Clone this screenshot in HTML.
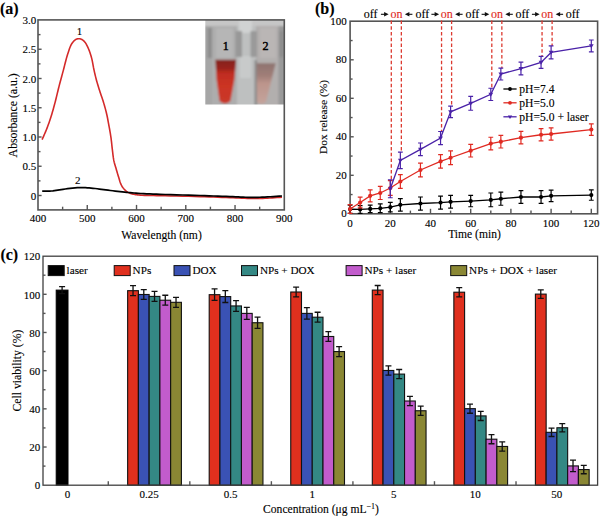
<!DOCTYPE html><html><head><meta charset="utf-8"><style>html,body{margin:0;padding:0;background:#fff;}svg{display:block;}text{font-family:"Liberation Serif", serif;stroke:#000;stroke-width:0.12px;}</style></head><body>
<svg width="600" height="517" viewBox="0 0 600 517">
<rect width="600" height="517" fill="#fff"/>
<defs><clipPath id="pc"><rect x="205.3" y="19.9" width="79" height="84.6"/></clipPath><filter id="pb" x="-5%" y="-5%" width="110%" height="110%"><feGaussianBlur stdDeviation="0.9"/></filter><linearGradient id="red1" x1="0" y1="0" x2="0" y2="1"><stop offset="0" stop-color="#84201a"/><stop offset="0.2" stop-color="#9a231b"/><stop offset="0.3" stop-color="#bf2c20"/><stop offset="0.6" stop-color="#cc3424"/><stop offset="1" stop-color="#c8382a"/></linearGradient><linearGradient id="pink2" x1="0" y1="0" x2="0" y2="1"><stop offset="0" stop-color="#8e7470"/><stop offset="0.3" stop-color="#a07e78"/><stop offset="0.5" stop-color="#bc958c"/><stop offset="1" stop-color="#c4a49c"/></linearGradient></defs>
<g clip-path="url(#pc)"><g filter="url(#pb)">
<rect x="202.3" y="16.9" width="85.0" height="90.6" fill="#acacac"/>
<rect x="202" y="17" width="86" height="9" fill="#c6c6c6"/>
<rect x="202" y="26" width="10" height="82" fill="#a6a6a6"/>
<rect x="207.5" y="28" width="5" height="30" fill="#8e8e8e"/>
<rect x="212" y="26" width="25" height="82" fill="#adadad"/>
<rect x="216" y="28" width="17" height="30" fill="#b6b6b6"/>
<rect x="237" y="26" width="19" height="82" fill="#bec0c0"/>
<rect x="239" y="20" width="13" height="13" fill="#d0d2d2"/>
<rect x="240" y="56" width="11" height="22" fill="#c8caca"/>
<rect x="235.5" y="31" width="6.5" height="26" fill="#989898"/>
<rect x="250.5" y="31" width="6.5" height="26" fill="#9a9a9a"/>
<rect x="254.5" y="60" width="2.5" height="46" fill="#8c8c8c"/>
<rect x="257" y="26" width="22" height="82" fill="#b2afae"/>
<rect x="260" y="28" width="16" height="30" fill="#bab6b5"/>
<rect x="278.5" y="26" width="8" height="82" fill="#999999"/>
<rect x="279" y="31" width="5" height="26" fill="#8e8e8e"/>
<path d="M215.4,59.8 L236.1,59.8 L234.4,80 L230.5,101 Q225,106 219.5,101 L216.6,80 Z" fill="url(#red1)"/>
<path d="M256.6,63.2 L275.7,63.2 L270.5,84 L266,102 Q261,106 257,102 Z" fill="url(#pink2)"/>
</g></g>
<text x="225.8" y="50.2" font-size="12" text-anchor="middle" fill="#000" font-weight="normal" style="stroke-width:0.45px">1</text>
<text x="265.5" y="50.2" font-size="12" text-anchor="middle" fill="#000" font-weight="normal" style="stroke-width:0.45px">2</text>
<rect x="38.0" y="19.9" width="246.3" height="190.0" fill="none" stroke="#555" stroke-width="1.6"/>
<text x="38" y="222.4" font-size="11" text-anchor="middle" fill="#000" font-weight="normal" >400</text>
<line x1="62.63" y1="209.9" x2="62.63" y2="206.7" stroke="#555" stroke-width="1.4" />
<line x1="87.26" y1="209.9" x2="87.26" y2="204.9" stroke="#555" stroke-width="1.4" />
<text x="87.26" y="222.4" font-size="11" text-anchor="middle" fill="#000" font-weight="normal" >500</text>
<line x1="111.89" y1="209.9" x2="111.89" y2="206.7" stroke="#555" stroke-width="1.4" />
<line x1="136.52" y1="209.9" x2="136.52" y2="204.9" stroke="#555" stroke-width="1.4" />
<text x="136.52" y="222.4" font-size="11" text-anchor="middle" fill="#000" font-weight="normal" >600</text>
<line x1="161.15" y1="209.9" x2="161.15" y2="206.7" stroke="#555" stroke-width="1.4" />
<line x1="185.78" y1="209.9" x2="185.78" y2="204.9" stroke="#555" stroke-width="1.4" />
<text x="185.78" y="222.4" font-size="11" text-anchor="middle" fill="#000" font-weight="normal" >700</text>
<line x1="210.41" y1="209.9" x2="210.41" y2="206.7" stroke="#555" stroke-width="1.4" />
<line x1="235.04" y1="209.9" x2="235.04" y2="204.9" stroke="#555" stroke-width="1.4" />
<text x="235.04" y="222.4" font-size="11" text-anchor="middle" fill="#000" font-weight="normal" >800</text>
<line x1="259.67" y1="209.9" x2="259.67" y2="206.7" stroke="#555" stroke-width="1.4" />
<text x="284.3" y="222.4" font-size="11" text-anchor="middle" fill="#000" font-weight="normal" >900</text>
<text x="36.2" y="199.5" font-size="11" text-anchor="end" fill="#000" font-weight="normal" >0</text>
<line x1="38" y1="195.5" x2="41.6" y2="195.5" stroke="#555" stroke-width="1.4" />
<line x1="38" y1="180.88" x2="40.5" y2="180.88" stroke="#555" stroke-width="1.4" />
<text x="36.2" y="170.25" font-size="11" text-anchor="end" fill="#000" font-weight="normal" >0.5</text>
<line x1="38" y1="166.25" x2="41.6" y2="166.25" stroke="#555" stroke-width="1.4" />
<line x1="38" y1="151.62" x2="40.5" y2="151.62" stroke="#555" stroke-width="1.4" />
<text x="36.2" y="141" font-size="11" text-anchor="end" fill="#000" font-weight="normal" >1.0</text>
<line x1="38" y1="137" x2="41.6" y2="137" stroke="#555" stroke-width="1.4" />
<line x1="38" y1="122.38" x2="40.5" y2="122.38" stroke="#555" stroke-width="1.4" />
<text x="36.2" y="111.75" font-size="11" text-anchor="end" fill="#000" font-weight="normal" >1.5</text>
<line x1="38" y1="107.75" x2="41.6" y2="107.75" stroke="#555" stroke-width="1.4" />
<line x1="38" y1="93.12" x2="40.5" y2="93.12" stroke="#555" stroke-width="1.4" />
<text x="36.2" y="82.5" font-size="11" text-anchor="end" fill="#000" font-weight="normal" >2.0</text>
<line x1="38" y1="78.5" x2="41.6" y2="78.5" stroke="#555" stroke-width="1.4" />
<line x1="38" y1="63.88" x2="40.5" y2="63.88" stroke="#555" stroke-width="1.4" />
<text x="36.2" y="53.25" font-size="11" text-anchor="end" fill="#000" font-weight="normal" >2.5</text>
<line x1="38" y1="49.25" x2="41.6" y2="49.25" stroke="#555" stroke-width="1.4" />
<line x1="38" y1="34.62" x2="40.5" y2="34.62" stroke="#555" stroke-width="1.4" />
<text x="36.2" y="24" font-size="11" text-anchor="end" fill="#000" font-weight="normal" >3.0</text>
<text x="161.5" y="238.6" font-size="11.6" text-anchor="middle" fill="#000" font-weight="normal" >Wavelength (nm)</text>
<text x="0" y="0" font-size="11.8" text-anchor="middle" transform="translate(16.9,115.3) rotate(-90)">Absorbance (a.u.)</text>
<text x="0" y="14" font-size="16" text-anchor="start" fill="#000" font-weight="bold" >(a)</text>
<path d="M42.1,139.6 L42.72,138.19 L43.34,136.8 L43.96,135.41 L44.58,134.01 L45.2,132.6 L45.81,131.17 L46.4,129.7 L47.03,128.1 L47.64,126.48 L48.25,124.84 L48.85,123.18 L49.44,121.49 L50.02,119.76 L50.6,118 L51.24,115.98 L51.87,113.91 L52.49,111.81 L53.1,109.66 L53.71,107.49 L54.31,105.3 L54.9,103.1 L55.52,100.73 L56.12,98.31 L56.71,95.87 L57.3,93.41 L57.89,90.95 L58.49,88.51 L59.1,86.1 L59.7,83.79 L60.31,81.49 L60.93,79.21 L61.55,76.93 L62.17,74.66 L62.78,72.38 L63.4,70.1 L64.01,67.78 L64.6,65.43 L65.2,63.06 L65.8,60.71 L66.41,58.41 L67.04,56.2 L67.7,54.1 L68.25,52.41 L68.8,50.73 L69.36,49.09 L69.93,47.53 L70.54,46.05 L71.19,44.7 L71.9,43.5 L72.45,42.71 L73.04,41.97 L73.64,41.29 L74.27,40.67 L74.9,40.12 L75.55,39.67 L76.2,39.3 L76.73,39.07 L77.26,38.9 L77.81,38.77 L78.36,38.7 L78.91,38.68 L79.46,38.71 L80,38.8 L80.63,38.97 L81.26,39.22 L81.9,39.54 L82.53,39.92 L83.14,40.36 L83.74,40.86 L84.3,41.4 L84.99,42.21 L85.65,43.14 L86.27,44.18 L86.87,45.3 L87.43,46.46 L87.98,47.63 L88.5,48.8 L89.04,50.08 L89.55,51.41 L90.03,52.77 L90.48,54.16 L90.91,55.56 L91.32,56.98 L91.7,58.4 L92.06,59.87 L92.37,61.36 L92.66,62.87 L92.93,64.39 L93.2,65.92 L93.48,67.45 L93.8,69 L94.16,70.64 L94.53,72.31 L94.92,73.98 L95.31,75.66 L95.73,77.35 L96.15,79.03 L96.6,80.7 L97.07,82.39 L97.57,84.09 L98.09,85.78 L98.62,87.47 L99.15,89.15 L99.68,90.79 L100.2,92.4 L100.66,93.81 L101.13,95.18 L101.59,96.53 L102.05,97.86 L102.51,99.21 L102.96,100.58 L103.4,102 L103.88,103.61 L104.37,105.26 L104.85,106.95 L105.32,108.65 L105.77,110.35 L106.2,112.04 L106.6,113.7 L106.95,115.24 L107.27,116.76 L107.57,118.26 L107.85,119.77 L108.13,121.29 L108.41,122.83 L108.7,124.4 L109.02,126.15 L109.36,127.94 L109.69,129.76 L110.01,131.59 L110.33,133.43 L110.62,135.27 L110.9,137.1 L111.15,138.94 L111.38,140.81 L111.59,142.68 L111.78,144.54 L111.98,146.39 L112.18,148.21 L112.4,150 L112.6,151.62 L112.79,153.23 L112.97,154.83 L113.17,156.4 L113.38,157.94 L113.62,159.44 L113.9,160.9 L114.18,162.13 L114.49,163.31 L114.82,164.47 L115.16,165.6 L115.51,166.73 L115.86,167.86 L116.2,169 L116.53,170.16 L116.87,171.32 L117.2,172.48 L117.54,173.63 L117.88,174.79 L118.24,175.95 L118.6,177.1 L118.97,178.28 L119.33,179.5 L119.69,180.71 L120.07,181.92 L120.47,183.08 L120.91,184.18 L121.4,185.2 L121.84,185.98 L122.29,186.72 L122.77,187.43 L123.28,188.09 L123.8,188.73 L124.34,189.33 L124.9,189.9 L125.43,190.4 L125.98,190.87 L126.54,191.31 L127.12,191.72 L127.72,192.11 L128.35,192.47 L129,192.8 L129.76,193.13 L130.56,193.43 L131.4,193.69 L132.26,193.93 L133.12,194.14 L133.97,194.33 L134.8,194.5 L135.52,194.64 L136.2,194.75 L136.86,194.83 L137.54,194.91 L138.27,194.97 L139.08,195.03 L140,195.1 L142.11,195.23 L144.57,195.33 L147.3,195.41 L150.27,195.48 L153.41,195.55 L156.67,195.62 L160,195.7 L165.04,195.82 L170.6,195.94 L176.48,196.06 L182.54,196.18 L188.59,196.31 L194.47,196.45 L200,196.6 L204.57,196.74 L209.06,196.9 L213.48,197.06 L217.79,197.23 L222,197.4 L226.07,197.55 L230,197.7 L233.09,197.82 L236.09,197.94 L239,198.06 L241.84,198.17 L244.61,198.27 L247.33,198.35 L250,198.4 L252.25,198.43 L254.42,198.45 L256.53,198.45 L258.62,198.44 L260.71,198.41 L262.83,198.37 L265,198.3 L267.37,198.2 L269.78,198.06 L272.21,197.9 L274.66,197.73 L277.11,197.54 L279.56,197.37 L282,197.2" fill="none" stroke="#d42a2a" stroke-width="1.6" stroke-linejoin="round"/>
<path d="M42.2,191.2 L43.49,191.18 L44.77,191.18 L46.04,191.18 L47.32,191.17 L48.62,191.15 L49.94,191.09 L51.3,191 L52.88,190.84 L54.48,190.62 L56.1,190.37 L57.76,190.09 L59.46,189.81 L61.21,189.54 L63,189.3 L65.24,189.02 L67.61,188.71 L70.05,188.41 L72.52,188.13 L74.98,187.88 L77.39,187.7 L79.7,187.6 L81.67,187.58 L83.59,187.62 L85.46,187.7 L87.33,187.82 L89.19,187.96 L91.07,188.13 L93,188.3 L95.09,188.51 L97.2,188.76 L99.33,189.04 L101.47,189.33 L103.63,189.63 L105.81,189.92 L108,190.2 L110.35,190.48 L112.76,190.77 L115.19,191.05 L117.63,191.33 L120.04,191.6 L122.41,191.86 L124.7,192.1 L126.65,192.3 L128.51,192.49 L130.33,192.67 L132.14,192.84 L134,193 L135.94,193.15 L138,193.3 L140.8,193.48 L143.69,193.63 L146.7,193.78 L149.82,193.91 L153.08,194.04 L156.47,194.17 L160,194.3 L165.14,194.48 L170.73,194.65 L176.61,194.82 L182.64,194.99 L188.64,195.16 L194.48,195.33 L200,195.5 L204.58,195.66 L209.11,195.82 L213.56,195.98 L217.9,196.14 L222.11,196.3 L226.15,196.45 L230,196.6 L232.83,196.71 L235.54,196.83 L238.15,196.95 L240.68,197.07 L243.15,197.17 L245.59,197.25 L248,197.3 L250.07,197.33 L252.06,197.34 L253.99,197.35 L255.92,197.34 L257.87,197.31 L259.89,197.26 L262,197.2 L264.67,197.09 L267.46,196.94 L270.32,196.77 L273.24,196.58 L276.18,196.38 L279.11,196.18 L282,196" fill="none" stroke="#000" stroke-width="1.7" stroke-linejoin="round"/>
<text x="79.4" y="35" font-size="11" text-anchor="middle" fill="#000" font-weight="normal" >1</text>
<text x="77.8" y="183.6" font-size="11" text-anchor="middle" fill="#000" font-weight="normal" >2</text>
<rect x="350.1" y="21.2" width="247.5" height="192.60000000000002" fill="none" stroke="#555" stroke-width="1.6"/>
<text x="350.1" y="227" font-size="11" text-anchor="middle" fill="#000" font-weight="normal" >0</text>
<line x1="370.2" y1="213.8" x2="370.2" y2="210.6" stroke="#555" stroke-width="1.4" />
<line x1="390.3" y1="213.8" x2="390.3" y2="208.8" stroke="#555" stroke-width="1.4" />
<text x="390.3" y="227" font-size="11" text-anchor="middle" fill="#000" font-weight="normal" >20</text>
<line x1="410.4" y1="213.8" x2="410.4" y2="210.6" stroke="#555" stroke-width="1.4" />
<line x1="430.5" y1="213.8" x2="430.5" y2="208.8" stroke="#555" stroke-width="1.4" />
<text x="430.5" y="227" font-size="11" text-anchor="middle" fill="#000" font-weight="normal" >40</text>
<line x1="450.6" y1="213.8" x2="450.6" y2="210.6" stroke="#555" stroke-width="1.4" />
<line x1="470.7" y1="213.8" x2="470.7" y2="208.8" stroke="#555" stroke-width="1.4" />
<text x="470.7" y="227" font-size="11" text-anchor="middle" fill="#000" font-weight="normal" >60</text>
<line x1="490.8" y1="213.8" x2="490.8" y2="210.6" stroke="#555" stroke-width="1.4" />
<line x1="510.9" y1="213.8" x2="510.9" y2="208.8" stroke="#555" stroke-width="1.4" />
<text x="510.9" y="227" font-size="11" text-anchor="middle" fill="#000" font-weight="normal" >80</text>
<line x1="531" y1="213.8" x2="531" y2="210.6" stroke="#555" stroke-width="1.4" />
<line x1="551.1" y1="213.8" x2="551.1" y2="208.8" stroke="#555" stroke-width="1.4" />
<text x="551.1" y="227" font-size="11" text-anchor="middle" fill="#000" font-weight="normal" >100</text>
<line x1="571.2" y1="213.8" x2="571.2" y2="210.6" stroke="#555" stroke-width="1.4" />
<line x1="591.3" y1="213.8" x2="591.3" y2="208.8" stroke="#555" stroke-width="1.4" />
<text x="591.3" y="227" font-size="11" text-anchor="middle" fill="#000" font-weight="normal" >120</text>
<text x="346.8" y="217.4" font-size="11" text-anchor="end" fill="#000" font-weight="normal" >0</text>
<line x1="350.1" y1="194.55" x2="352.6" y2="194.55" stroke="#555" stroke-width="1.4" />
<line x1="350.1" y1="175.3" x2="353.7" y2="175.3" stroke="#555" stroke-width="1.4" />
<text x="346.8" y="178.9" font-size="11" text-anchor="end" fill="#000" font-weight="normal" >20</text>
<line x1="350.1" y1="156.05" x2="352.6" y2="156.05" stroke="#555" stroke-width="1.4" />
<line x1="350.1" y1="136.8" x2="353.7" y2="136.8" stroke="#555" stroke-width="1.4" />
<text x="346.8" y="140.4" font-size="11" text-anchor="end" fill="#000" font-weight="normal" >40</text>
<line x1="350.1" y1="117.55" x2="352.6" y2="117.55" stroke="#555" stroke-width="1.4" />
<line x1="350.1" y1="98.3" x2="353.7" y2="98.3" stroke="#555" stroke-width="1.4" />
<text x="346.8" y="101.9" font-size="11" text-anchor="end" fill="#000" font-weight="normal" >60</text>
<line x1="350.1" y1="79.05" x2="352.6" y2="79.05" stroke="#555" stroke-width="1.4" />
<line x1="350.1" y1="59.8" x2="353.7" y2="59.8" stroke="#555" stroke-width="1.4" />
<text x="346.8" y="63.4" font-size="11" text-anchor="end" fill="#000" font-weight="normal" >80</text>
<line x1="350.1" y1="40.55" x2="352.6" y2="40.55" stroke="#555" stroke-width="1.4" />
<text x="346.8" y="24.9" font-size="11" text-anchor="end" fill="#000" font-weight="normal" >100</text>
<text x="474.5" y="238.3" font-size="11.6" text-anchor="middle" fill="#000" font-weight="normal" >Time (min)</text>
<text x="0" y="0" font-size="11.4" text-anchor="middle" transform="translate(326.9,117) rotate(-90)">Dox release (%)</text>
<text x="315" y="14" font-size="16" text-anchor="start" fill="#000" font-weight="bold" >(b)</text>
<line x1="391.3" y1="20.6" x2="391.3" y2="180.5" stroke="#dc3a30" stroke-width="1.3" stroke-dasharray="3.3,2.45"/>
<line x1="401.35" y1="20.6" x2="401.35" y2="152.6" stroke="#dc3a30" stroke-width="1.3" stroke-dasharray="3.3,2.45"/>
<line x1="441.55" y1="20.6" x2="441.55" y2="131.6" stroke="#dc3a30" stroke-width="1.3" stroke-dasharray="3.3,2.45"/>
<line x1="451.6" y1="20.6" x2="451.6" y2="106.0" stroke="#dc3a30" stroke-width="1.3" stroke-dasharray="3.3,2.45"/>
<line x1="491.8" y1="20.6" x2="491.8" y2="88.0" stroke="#dc3a30" stroke-width="1.3" stroke-dasharray="3.3,2.45"/>
<line x1="501.85" y1="20.6" x2="501.85" y2="68.0" stroke="#dc3a30" stroke-width="1.3" stroke-dasharray="3.3,2.45"/>
<line x1="542.05" y1="20.6" x2="542.05" y2="56.2" stroke="#dc3a30" stroke-width="1.3" stroke-dasharray="3.3,2.45"/>
<line x1="552.1" y1="20.6" x2="552.1" y2="46.0" stroke="#dc3a30" stroke-width="1.3" stroke-dasharray="3.3,2.45"/>
<polyline points="350.1,209.26 360.15,209.45 370.2,208.88 380.25,208.3 390.3,207.16 400.35,204.86 420.45,203.52 440.55,202.56 450.6,201.79 470.7,201.03 490.8,199.88 500.85,198.73 520.95,197.01 541.05,197.01 551.1,195.86 591.3,195.09" fill="none" stroke="#000" stroke-width="1.3"/>
<path d="M350.1,205.05V213.47M347.7,205.05H352.5M347.7,213.47H352.5" stroke="#000" stroke-width="1.2" fill="none"/>
<path d="M360.15,205.62V213.28M357.75,205.62H362.55M357.75,213.28H362.55" stroke="#000" stroke-width="1.2" fill="none"/>
<path d="M370.2,205.05V212.71M367.8,205.05H372.6M367.8,212.71H372.6" stroke="#000" stroke-width="1.2" fill="none"/>
<path d="M380.25,203.9V212.71M377.85,203.9H382.65M377.85,212.71H382.65" stroke="#000" stroke-width="1.2" fill="none"/>
<path d="M390.3,202.37V211.94M387.9,202.37H392.7M387.9,211.94H392.7" stroke="#000" stroke-width="1.2" fill="none"/>
<path d="M400.35,198.54V211.18M397.95,198.54H402.75M397.95,211.18H402.75" stroke="#000" stroke-width="1.2" fill="none"/>
<path d="M420.45,197.01V210.03M418.05,197.01H422.85M418.05,210.03H422.85" stroke="#000" stroke-width="1.2" fill="none"/>
<path d="M440.55,196.05V209.07M438.15,196.05H442.95M438.15,209.07H442.95" stroke="#000" stroke-width="1.2" fill="none"/>
<path d="M450.6,195.47V208.11M448.2,195.47H453M448.2,208.11H453" stroke="#000" stroke-width="1.2" fill="none"/>
<path d="M470.7,195.28V206.77M468.3,195.28H473.1M468.3,206.77H473.1" stroke="#000" stroke-width="1.2" fill="none"/>
<path d="M490.8,192.98V206.77M488.4,192.98H493.2M488.4,206.77H493.2" stroke="#000" stroke-width="1.2" fill="none"/>
<path d="M500.85,192.22V205.24M498.45,192.22H503.25M498.45,205.24H503.25" stroke="#000" stroke-width="1.2" fill="none"/>
<path d="M520.95,190.69V203.33M518.55,190.69H523.35M518.55,203.33H523.35" stroke="#000" stroke-width="1.2" fill="none"/>
<path d="M541.05,190.69V203.33M538.65,190.69H543.45M538.65,203.33H543.45" stroke="#000" stroke-width="1.2" fill="none"/>
<path d="M551.1,190.11V201.6M548.7,190.11H553.5M548.7,201.6H553.5" stroke="#000" stroke-width="1.2" fill="none"/>
<path d="M591.3,189.92V200.26M588.9,189.92H593.7M588.9,200.26H593.7" stroke="#000" stroke-width="1.2" fill="none"/>
<circle cx="350.1" cy="209.26" r="2.1" fill="#000"/>
<circle cx="360.15" cy="209.45" r="2.1" fill="#000"/>
<circle cx="370.2" cy="208.88" r="2.1" fill="#000"/>
<circle cx="380.25" cy="208.3" r="2.1" fill="#000"/>
<circle cx="390.3" cy="207.16" r="2.1" fill="#000"/>
<circle cx="400.35" cy="204.86" r="2.1" fill="#000"/>
<circle cx="420.45" cy="203.52" r="2.1" fill="#000"/>
<circle cx="440.55" cy="202.56" r="2.1" fill="#000"/>
<circle cx="450.6" cy="201.79" r="2.1" fill="#000"/>
<circle cx="470.7" cy="201.03" r="2.1" fill="#000"/>
<circle cx="490.8" cy="199.88" r="2.1" fill="#000"/>
<circle cx="500.85" cy="198.73" r="2.1" fill="#000"/>
<circle cx="520.95" cy="197.01" r="2.1" fill="#000"/>
<circle cx="541.05" cy="197.01" r="2.1" fill="#000"/>
<circle cx="551.1" cy="195.86" r="2.1" fill="#000"/>
<circle cx="591.3" cy="195.09" r="2.1" fill="#000"/>
<polyline points="350.1,209.07 360.15,202.56 370.2,195.86 380.25,192.98 390.3,188 400.35,181.49 420.45,170 440.55,161.39 450.6,157.75 470.7,150.66 490.8,143.58 500.85,141.66 520.95,137.64 541.05,134.77 551.1,134 591.3,129.6" fill="none" stroke="#e02a22" stroke-width="1.3"/>
<path d="M350.1,204.67V213.47M347.7,204.67H352.5M347.7,213.47H352.5" stroke="#e02a22" stroke-width="1.2" fill="none"/>
<path d="M360.15,197.2V207.92M357.75,197.2H362.55M357.75,207.92H362.55" stroke="#e02a22" stroke-width="1.2" fill="none"/>
<path d="M370.2,189.92V201.79M367.8,189.92H372.6M367.8,201.79H372.6" stroke="#e02a22" stroke-width="1.2" fill="none"/>
<path d="M380.25,186.47V199.5M377.85,186.47H382.65M377.85,199.5H382.65" stroke="#e02a22" stroke-width="1.2" fill="none"/>
<path d="M390.3,180.54V195.47M387.9,180.54H392.7M387.9,195.47H392.7" stroke="#e02a22" stroke-width="1.2" fill="none"/>
<path d="M400.35,174.6V188.39M397.95,174.6H402.75M397.95,188.39H402.75" stroke="#e02a22" stroke-width="1.2" fill="none"/>
<path d="M420.45,163.11V176.9M418.05,163.11H422.85M418.05,176.9H422.85" stroke="#e02a22" stroke-width="1.2" fill="none"/>
<path d="M440.55,154.68V168.09M438.15,154.68H442.95M438.15,168.09H442.95" stroke="#e02a22" stroke-width="1.2" fill="none"/>
<path d="M450.6,150.85V164.64M448.2,150.85H453M448.2,164.64H453" stroke="#e02a22" stroke-width="1.2" fill="none"/>
<path d="M470.7,144.34V156.98M468.3,144.34H473.1M468.3,156.98H473.1" stroke="#e02a22" stroke-width="1.2" fill="none"/>
<path d="M490.8,137.26V149.9M488.4,137.26H493.2M488.4,149.9H493.2" stroke="#e02a22" stroke-width="1.2" fill="none"/>
<path d="M500.85,135.34V147.98M498.45,135.34H503.25M498.45,147.98H503.25" stroke="#e02a22" stroke-width="1.2" fill="none"/>
<path d="M520.95,131.32V143.96M518.55,131.32H523.35M518.55,143.96H523.35" stroke="#e02a22" stroke-width="1.2" fill="none"/>
<path d="M541.05,128.64V140.9M538.65,128.64H543.45M538.65,140.9H543.45" stroke="#e02a22" stroke-width="1.2" fill="none"/>
<path d="M551.1,127.87V140.13M548.7,127.87H553.5M548.7,140.13H553.5" stroke="#e02a22" stroke-width="1.2" fill="none"/>
<path d="M591.3,123.85V135.34M588.9,123.85H593.7M588.9,135.34H593.7" stroke="#e02a22" stroke-width="1.2" fill="none"/>
<circle cx="350.1" cy="209.07" r="2.1" fill="#e02a22"/>
<circle cx="360.15" cy="202.56" r="2.1" fill="#e02a22"/>
<circle cx="370.2" cy="195.86" r="2.1" fill="#e02a22"/>
<circle cx="380.25" cy="192.98" r="2.1" fill="#e02a22"/>
<circle cx="390.3" cy="188" r="2.1" fill="#e02a22"/>
<circle cx="400.35" cy="181.49" r="2.1" fill="#e02a22"/>
<circle cx="420.45" cy="170" r="2.1" fill="#e02a22"/>
<circle cx="440.55" cy="161.39" r="2.1" fill="#e02a22"/>
<circle cx="450.6" cy="157.75" r="2.1" fill="#e02a22"/>
<circle cx="470.7" cy="150.66" r="2.1" fill="#e02a22"/>
<circle cx="490.8" cy="143.58" r="2.1" fill="#e02a22"/>
<circle cx="500.85" cy="141.66" r="2.1" fill="#e02a22"/>
<circle cx="520.95" cy="137.64" r="2.1" fill="#e02a22"/>
<circle cx="541.05" cy="134.77" r="2.1" fill="#e02a22"/>
<circle cx="551.1" cy="134" r="2.1" fill="#e02a22"/>
<circle cx="591.3" cy="129.6" r="2.1" fill="#e02a22"/>
<polyline points="390.3,188.77 400.35,160.43 420.45,149.32 440.55,138.02 450.6,111.79 470.7,103.36 490.8,94.36 500.85,74.06 520.95,68.51 541.05,62.38 551.1,52.42 591.3,45.91" fill="none" stroke="#4a22a8" stroke-width="1.3"/>
<path d="M390.3,179.77V197.77M387.9,179.77H392.7M387.9,197.77H392.7" stroke="#4a22a8" stroke-width="1.2" fill="none"/>
<path d="M400.35,152.19V168.66M397.95,152.19H402.75M397.95,168.66H402.75" stroke="#4a22a8" stroke-width="1.2" fill="none"/>
<path d="M420.45,143V155.64M418.05,143H422.85M418.05,155.64H422.85" stroke="#4a22a8" stroke-width="1.2" fill="none"/>
<path d="M440.55,131.51V144.53M438.15,131.51H442.95M438.15,144.53H442.95" stroke="#4a22a8" stroke-width="1.2" fill="none"/>
<path d="M450.6,106.04V117.53M448.2,106.04H453M448.2,117.53H453" stroke="#4a22a8" stroke-width="1.2" fill="none"/>
<path d="M470.7,96.47V110.26M468.3,96.47H473.1M468.3,110.26H473.1" stroke="#4a22a8" stroke-width="1.2" fill="none"/>
<path d="M490.8,88.23V100.49M488.4,88.23H493.2M488.4,100.49H493.2" stroke="#4a22a8" stroke-width="1.2" fill="none"/>
<path d="M500.85,68.13V80M498.45,68.13H503.25M498.45,80H503.25" stroke="#4a22a8" stroke-width="1.2" fill="none"/>
<path d="M520.95,62.19V74.83M518.55,62.19H523.35M518.55,74.83H523.35" stroke="#4a22a8" stroke-width="1.2" fill="none"/>
<path d="M541.05,56.44V68.32M538.65,56.44H543.45M538.65,68.32H543.45" stroke="#4a22a8" stroke-width="1.2" fill="none"/>
<path d="M551.1,45.91V58.93M548.7,45.91H553.5M548.7,58.93H553.5" stroke="#4a22a8" stroke-width="1.2" fill="none"/>
<path d="M591.3,39.98V51.85M588.9,39.98H593.7M588.9,51.85H593.7" stroke="#4a22a8" stroke-width="1.2" fill="none"/>
<path d="M387.9,187.17H392.7L390.3,191.17Z" fill="#4a22a8"/>
<path d="M397.95,158.83H402.75L400.35,162.83Z" fill="#4a22a8"/>
<path d="M418.05,147.72H422.85L420.45,151.72Z" fill="#4a22a8"/>
<path d="M438.15,136.42H442.95L440.55,140.42Z" fill="#4a22a8"/>
<path d="M448.2,110.19H453L450.6,114.19Z" fill="#4a22a8"/>
<path d="M468.3,101.76H473.1L470.7,105.76Z" fill="#4a22a8"/>
<path d="M488.4,92.76H493.2L490.8,96.76Z" fill="#4a22a8"/>
<path d="M498.45,72.46H503.25L500.85,76.46Z" fill="#4a22a8"/>
<path d="M518.55,66.91H523.35L520.95,70.91Z" fill="#4a22a8"/>
<path d="M538.65,60.78H543.45L541.05,64.78Z" fill="#4a22a8"/>
<path d="M548.7,50.82H553.5L551.1,54.82Z" fill="#4a22a8"/>
<path d="M588.9,44.31H593.7L591.3,48.31Z" fill="#4a22a8"/>
<text x="363.8" y="17.9" font-size="12" text-anchor="start" fill="#000" font-weight="normal" >off</text>
<path d="M380.9,14.3H385.3" stroke="#111" stroke-width="1.1"/><path d="M384.1,12.1L388.6,14.3L384.1,16.5Z" fill="#111"/>
<text x="390.4" y="17.9" font-size="12" text-anchor="start" fill="#e02a22" font-weight="normal" style="stroke:#e02a22" >on</text>
<path d="M408.1,14.3H412.4" stroke="#111" stroke-width="1.1"/><path d="M409.4,12.1L404.9,14.3L409.4,16.5Z" fill="#111"/>
<text x="415.4" y="17.9" font-size="12" text-anchor="start" fill="#000" font-weight="normal" >off</text>
<path d="M431.4,14.3H435.8" stroke="#111" stroke-width="1.1"/><path d="M434.6,12.1L439.1,14.3L434.6,16.5Z" fill="#111"/>
<text x="440.8" y="17.9" font-size="12" text-anchor="start" fill="#e02a22" font-weight="normal" style="stroke:#e02a22" >on</text>
<path d="M458.3,14.3H462.6" stroke="#111" stroke-width="1.1"/><path d="M459.6,12.1L455.1,14.3L459.6,16.5Z" fill="#111"/>
<text x="465.4" y="17.9" font-size="12" text-anchor="start" fill="#000" font-weight="normal" >off</text>
<path d="M481.6,14.3H486" stroke="#111" stroke-width="1.1"/><path d="M484.8,12.1L489.3,14.3L484.8,16.5Z" fill="#111"/>
<text x="490.9" y="17.9" font-size="12" text-anchor="start" fill="#e02a22" font-weight="normal" style="stroke:#e02a22" >on</text>
<path d="M508.5,14.3H512.8" stroke="#111" stroke-width="1.1"/><path d="M509.8,12.1L505.3,14.3L509.8,16.5Z" fill="#111"/>
<text x="515.6" y="17.9" font-size="12" text-anchor="start" fill="#000" font-weight="normal" >off</text>
<path d="M531.9,14.3H536.3" stroke="#111" stroke-width="1.1"/><path d="M535.1,12.1L539.6,14.3L535.1,16.5Z" fill="#111"/>
<text x="541.2" y="17.9" font-size="12" text-anchor="start" fill="#e02a22" font-weight="normal" style="stroke:#e02a22" >on</text>
<path d="M558.8,14.3H563.1" stroke="#111" stroke-width="1.1"/><path d="M560.1,12.1L555.6,14.3L560.1,16.5Z" fill="#111"/>
<text x="565.8" y="17.9" font-size="12" text-anchor="start" fill="#000" font-weight="normal" >off</text>
<line x1="503.4" y1="89" x2="516.6" y2="89" stroke="#000" stroke-width="1.3" />
<circle cx="510" cy="89.0" r="1.9" fill="#000"/>
<text x="519.3" y="93.1" font-size="11.6" text-anchor="start" fill="#000" font-weight="normal" >pH=7.4</text>
<line x1="503.4" y1="102.8" x2="516.6" y2="102.8" stroke="#e02a22" stroke-width="1.3" />
<circle cx="510" cy="102.8" r="1.9" fill="#e02a22"/>
<text x="519.3" y="106.9" font-size="11.6" text-anchor="start" fill="#000" font-weight="normal" >pH=5.0</text>
<line x1="503.4" y1="116.8" x2="516.6" y2="116.8" stroke="#4a22a8" stroke-width="1.3" />
<path d="M507.8,115.4H512.2L510,119Z" fill="#4a22a8"/>
<text x="519.3" y="120.9" font-size="11.6" text-anchor="start" fill="#000" font-weight="normal" >pH=5.0 + laser</text>
<rect x="56.2" y="290.1" width="11.8" height="195.1" fill="#000" stroke="#000" stroke-width="1"/>
<rect x="127.65" y="290.67" width="10.75" height="194.53" fill="#e0301e" stroke="#111" stroke-width="1.1"/>
<rect x="138.4" y="294.49" width="10.75" height="190.71" fill="#3a52b4" stroke="#111" stroke-width="1.1"/>
<rect x="149.15" y="296.4" width="10.75" height="188.8" fill="#348884" stroke="#111" stroke-width="1.1"/>
<rect x="159.9" y="300.22" width="10.75" height="184.98" fill="#c25ccc" stroke="#111" stroke-width="1.1"/>
<rect x="170.65" y="302.32" width="10.75" height="182.88" fill="#8a8734" stroke="#111" stroke-width="1.1"/>
<rect x="209.2" y="294.68" width="10.75" height="190.52" fill="#e0301e" stroke="#111" stroke-width="1.1"/>
<rect x="219.95" y="296.59" width="10.75" height="188.61" fill="#3a52b4" stroke="#111" stroke-width="1.1"/>
<rect x="230.7" y="305.94" width="10.75" height="179.26" fill="#348884" stroke="#111" stroke-width="1.1"/>
<rect x="241.45" y="313.39" width="10.75" height="171.81" fill="#c25ccc" stroke="#111" stroke-width="1.1"/>
<rect x="252.2" y="322.74" width="10.75" height="162.46" fill="#8a8734" stroke="#111" stroke-width="1.1"/>
<rect x="290.75" y="292.01" width="10.75" height="193.19" fill="#e0301e" stroke="#111" stroke-width="1.1"/>
<rect x="301.5" y="313.39" width="10.75" height="171.81" fill="#3a52b4" stroke="#111" stroke-width="1.1"/>
<rect x="312.25" y="317.21" width="10.75" height="167.99" fill="#348884" stroke="#111" stroke-width="1.1"/>
<rect x="323" y="336.49" width="10.75" height="148.71" fill="#c25ccc" stroke="#111" stroke-width="1.1"/>
<rect x="333.75" y="351.57" width="10.75" height="133.63" fill="#8a8734" stroke="#111" stroke-width="1.1"/>
<rect x="372.3" y="290.1" width="10.75" height="195.1" fill="#e0301e" stroke="#111" stroke-width="1.1"/>
<rect x="383.05" y="370.47" width="10.75" height="114.73" fill="#3a52b4" stroke="#111" stroke-width="1.1"/>
<rect x="393.8" y="374.1" width="10.75" height="111.1" fill="#348884" stroke="#111" stroke-width="1.1"/>
<rect x="404.55" y="401.01" width="10.75" height="84.19" fill="#c25ccc" stroke="#111" stroke-width="1.1"/>
<rect x="415.3" y="410.75" width="10.75" height="74.45" fill="#8a8734" stroke="#111" stroke-width="1.1"/>
<rect x="453.85" y="292.2" width="10.75" height="193" fill="#e0301e" stroke="#111" stroke-width="1.1"/>
<rect x="464.6" y="408.65" width="10.75" height="76.55" fill="#3a52b4" stroke="#111" stroke-width="1.1"/>
<rect x="475.35" y="415.9" width="10.75" height="69.3" fill="#348884" stroke="#111" stroke-width="1.1"/>
<rect x="486.1" y="439.19" width="10.75" height="46.01" fill="#c25ccc" stroke="#111" stroke-width="1.1"/>
<rect x="496.85" y="446.45" width="10.75" height="38.75" fill="#8a8734" stroke="#111" stroke-width="1.1"/>
<rect x="535.4" y="294.11" width="10.75" height="191.09" fill="#e0301e" stroke="#111" stroke-width="1.1"/>
<rect x="546.15" y="432.32" width="10.75" height="52.88" fill="#3a52b4" stroke="#111" stroke-width="1.1"/>
<rect x="556.9" y="427.74" width="10.75" height="57.46" fill="#348884" stroke="#111" stroke-width="1.1"/>
<rect x="567.65" y="465.92" width="10.75" height="19.28" fill="#c25ccc" stroke="#111" stroke-width="1.1"/>
<rect x="578.4" y="469.55" width="10.75" height="15.65" fill="#8a8734" stroke="#111" stroke-width="1.1"/>
<path d="M62.1,286.66V293.54M59.1,286.66H65.1M59.1,293.54H65.1" stroke="#111" stroke-width="1.3" fill="none"/>
<path d="M133.03,285.71V295.64M130.03,285.71H136.03M130.03,295.64H136.03" stroke="#111" stroke-width="1.3" fill="none"/>
<path d="M143.78,289.53V299.45M140.78,289.53H146.78M140.78,299.45H146.78" stroke="#111" stroke-width="1.3" fill="none"/>
<path d="M154.53,291.44V301.36M151.53,291.44H157.53M151.53,301.36H157.53" stroke="#111" stroke-width="1.3" fill="none"/>
<path d="M165.28,295.25V305.18M162.28,295.25H168.28M162.28,305.18H168.28" stroke="#111" stroke-width="1.3" fill="none"/>
<path d="M176.03,297.35V307.28M173.03,297.35H179.03M173.03,307.28H179.03" stroke="#111" stroke-width="1.3" fill="none"/>
<path d="M214.57,288.95V300.41M211.57,288.95H217.57M211.57,300.41H217.57" stroke="#111" stroke-width="1.3" fill="none"/>
<path d="M225.32,290.67V302.51M222.32,290.67H228.32M222.32,302.51H228.32" stroke="#111" stroke-width="1.3" fill="none"/>
<path d="M236.07,300.6V311.29M233.07,300.6H239.07M233.07,311.29H239.07" stroke="#111" stroke-width="1.3" fill="none"/>
<path d="M246.82,307.47V319.31M243.82,307.47H249.82M243.82,319.31H249.82" stroke="#111" stroke-width="1.3" fill="none"/>
<path d="M257.57,317.21V328.28M254.57,317.21H260.57M254.57,328.28H260.57" stroke="#111" stroke-width="1.3" fill="none"/>
<path d="M296.12,287.05V296.97M293.12,287.05H299.12M293.12,296.97H299.12" stroke="#111" stroke-width="1.3" fill="none"/>
<path d="M306.88,307.66V319.12M303.88,307.66H309.88M303.88,319.12H309.88" stroke="#111" stroke-width="1.3" fill="none"/>
<path d="M317.62,312.24V322.17M314.62,312.24H320.62M314.62,322.17H320.62" stroke="#111" stroke-width="1.3" fill="none"/>
<path d="M328.38,331.53V341.45M325.38,331.53H331.38M325.38,341.45H331.38" stroke="#111" stroke-width="1.3" fill="none"/>
<path d="M339.12,346.61V356.53M336.12,346.61H342.12M336.12,356.53H342.12" stroke="#111" stroke-width="1.3" fill="none"/>
<path d="M377.68,285.52V294.68M374.68,285.52H380.68M374.68,294.68H380.68" stroke="#111" stroke-width="1.3" fill="none"/>
<path d="M388.43,365.89V375.05M385.43,365.89H391.43M385.43,375.05H391.43" stroke="#111" stroke-width="1.3" fill="none"/>
<path d="M399.18,369.51V378.68M396.18,369.51H402.18M396.18,378.68H402.18" stroke="#111" stroke-width="1.3" fill="none"/>
<path d="M409.93,396.43V405.59M406.93,396.43H412.93M406.93,405.59H412.93" stroke="#111" stroke-width="1.3" fill="none"/>
<path d="M420.68,406.17V415.33M417.68,406.17H423.68M417.68,415.33H423.68" stroke="#111" stroke-width="1.3" fill="none"/>
<path d="M459.23,287.62V296.78M456.23,287.62H462.23M456.23,296.78H462.23" stroke="#111" stroke-width="1.3" fill="none"/>
<path d="M469.98,404.07V413.23M466.98,404.07H472.98M466.98,413.23H472.98" stroke="#111" stroke-width="1.3" fill="none"/>
<path d="M480.73,411.32V420.48M477.73,411.32H483.73M477.73,420.48H483.73" stroke="#111" stroke-width="1.3" fill="none"/>
<path d="M491.48,434.61V443.77M488.48,434.61H494.48M488.48,443.77H494.48" stroke="#111" stroke-width="1.3" fill="none"/>
<path d="M502.23,441.87V451.03M499.23,441.87H505.23M499.23,451.03H505.23" stroke="#111" stroke-width="1.3" fill="none"/>
<path d="M540.77,289.91V298.31M537.77,289.91H543.77M537.77,298.31H543.77" stroke="#111" stroke-width="1.3" fill="none"/>
<path d="M551.52,428.12V436.52M548.52,428.12H554.52M548.52,436.52H554.52" stroke="#111" stroke-width="1.3" fill="none"/>
<path d="M562.27,423.54V431.94M559.27,423.54H565.27M559.27,431.94H565.27" stroke="#111" stroke-width="1.3" fill="none"/>
<path d="M573.02,460.19V471.65M570.02,460.19H576.02M570.02,471.65H576.02" stroke="#111" stroke-width="1.3" fill="none"/>
<path d="M583.77,465.35V473.75M580.77,465.35H586.77M580.77,473.75H586.77" stroke="#111" stroke-width="1.3" fill="none"/>
<rect x="43.0" y="256.2" width="554.6" height="229.0" fill="none" stroke="#404040" stroke-width="1.3"/>
<text x="40.2" y="489.4" font-size="11" text-anchor="end" fill="#000" font-weight="normal" >0</text>
<line x1="43" y1="466.11" x2="45.5" y2="466.11" stroke="#555" stroke-width="1.4" />
<line x1="43" y1="447.02" x2="46.6" y2="447.02" stroke="#555" stroke-width="1.4" />
<text x="40.2" y="451.22" font-size="11" text-anchor="end" fill="#000" font-weight="normal" >20</text>
<line x1="43" y1="427.93" x2="45.5" y2="427.93" stroke="#555" stroke-width="1.4" />
<line x1="43" y1="408.84" x2="46.6" y2="408.84" stroke="#555" stroke-width="1.4" />
<text x="40.2" y="413.04" font-size="11" text-anchor="end" fill="#000" font-weight="normal" >40</text>
<line x1="43" y1="389.75" x2="45.5" y2="389.75" stroke="#555" stroke-width="1.4" />
<line x1="43" y1="370.66" x2="46.6" y2="370.66" stroke="#555" stroke-width="1.4" />
<text x="40.2" y="374.86" font-size="11" text-anchor="end" fill="#000" font-weight="normal" >60</text>
<line x1="43" y1="351.57" x2="45.5" y2="351.57" stroke="#555" stroke-width="1.4" />
<line x1="43" y1="332.48" x2="46.6" y2="332.48" stroke="#555" stroke-width="1.4" />
<text x="40.2" y="336.68" font-size="11" text-anchor="end" fill="#000" font-weight="normal" >80</text>
<line x1="43" y1="313.39" x2="45.5" y2="313.39" stroke="#555" stroke-width="1.4" />
<line x1="43" y1="294.3" x2="46.6" y2="294.3" stroke="#555" stroke-width="1.4" />
<text x="40.2" y="298.5" font-size="11" text-anchor="end" fill="#000" font-weight="normal" >100</text>
<line x1="43" y1="275.21" x2="45.5" y2="275.21" stroke="#555" stroke-width="1.4" />
<text x="40.2" y="260.32" font-size="11" text-anchor="end" fill="#000" font-weight="normal" >120</text>
<line x1="108.28" y1="485.2" x2="108.28" y2="481.2" stroke="#555" stroke-width="1.4" />
<line x1="189.83" y1="485.2" x2="189.83" y2="481.2" stroke="#555" stroke-width="1.4" />
<line x1="271.38" y1="485.2" x2="271.38" y2="481.2" stroke="#555" stroke-width="1.4" />
<line x1="352.92" y1="485.2" x2="352.92" y2="481.2" stroke="#555" stroke-width="1.4" />
<line x1="434.47" y1="485.2" x2="434.47" y2="481.2" stroke="#555" stroke-width="1.4" />
<line x1="516.02" y1="485.2" x2="516.02" y2="481.2" stroke="#555" stroke-width="1.4" />
<text x="67.5" y="498.2" font-size="11" text-anchor="middle" fill="#000" font-weight="normal" >0</text>
<text x="149.05" y="498.2" font-size="11" text-anchor="middle" fill="#000" font-weight="normal" >0.25</text>
<text x="230.6" y="498.2" font-size="11" text-anchor="middle" fill="#000" font-weight="normal" >0.5</text>
<text x="312.15" y="498.2" font-size="11" text-anchor="middle" fill="#000" font-weight="normal" >1</text>
<text x="393.7" y="498.2" font-size="11" text-anchor="middle" fill="#000" font-weight="normal" >5</text>
<text x="475.25" y="498.2" font-size="11" text-anchor="middle" fill="#000" font-weight="normal" >10</text>
<text x="556.8" y="498.2" font-size="11" text-anchor="middle" fill="#000" font-weight="normal" >50</text>
<text x="321" y="513.3" font-size="11.6" text-anchor="middle" fill="#000" font-weight="normal" >Concentration (μg mL<tspan dy="-4" font-size="8">−1</tspan><tspan dy="4">)</tspan></text>
<text x="0" y="0" font-size="11.7" text-anchor="middle" transform="translate(20.6,370.6) rotate(-90)">Cell viability (%)</text>
<text x="0.4" y="259.7" font-size="16" text-anchor="start" fill="#000" font-weight="bold" >(c)</text>
<rect x="48.2" y="265.6" width="16" height="10" fill="#000000" stroke="#111" stroke-width="1"/>
<text x="66.6" y="274.4" font-size="11.2" text-anchor="start" fill="#000" font-weight="normal" >laser</text>
<rect x="114.2" y="265.6" width="16" height="10" fill="#e0301e" stroke="#111" stroke-width="1"/>
<text x="132.6" y="274.4" font-size="11.2" text-anchor="start" fill="#000" font-weight="normal" >NPs</text>
<rect x="174.0" y="265.6" width="16" height="10" fill="#3a52b4" stroke="#111" stroke-width="1"/>
<text x="192.4" y="274.4" font-size="11.2" text-anchor="start" fill="#000" font-weight="normal" >DOX</text>
<rect x="241.5" y="265.6" width="16" height="10" fill="#348884" stroke="#111" stroke-width="1"/>
<text x="259.9" y="274.4" font-size="11.2" text-anchor="start" fill="#000" font-weight="normal" >NPs + DOX</text>
<rect x="346.1" y="265.6" width="16" height="10" fill="#c25ccc" stroke="#111" stroke-width="1"/>
<text x="364.5" y="274.4" font-size="11.2" text-anchor="start" fill="#000" font-weight="normal" >NPs + laser</text>
<rect x="450.7" y="265.6" width="16" height="10" fill="#8a8734" stroke="#111" stroke-width="1"/>
<text x="469.1" y="274.4" font-size="11.2" text-anchor="start" fill="#000" font-weight="normal" >NPs + DOX + laser</text>
</svg></body></html>
